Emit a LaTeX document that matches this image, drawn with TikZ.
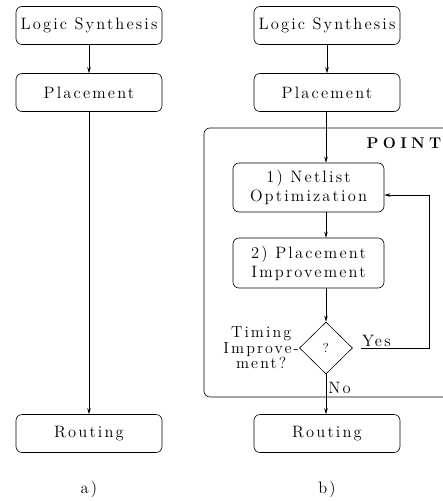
\documentclass[tikz,border=0pt]{standalone}
\usepackage{fontspec}
\usetikzlibrary{arrows.meta,shapes.geometric}
\newfontfamily\spacedfam[LetterSpace=13]{lmroman12-regular.otf}
\newfontfamily\spacedboldfam[LetterSpace=28]{lmroman12-bold.otf}
\newcommand{\flowfont}{\spacedfam\fontsize{16.5}{19}\selectfont}
\newcommand{\notefont}{\spacedfam\fontsize{16}{15.5}\selectfont}
\newcommand{\titlefont}{\spacedboldfam\fontsize{15.5}{17}\selectfont}
\tikzset{
  flowbox/.style={draw,rounded corners=6pt,minimum height=38pt,inner sep=0pt,align=center,font=\flowfont},
  flowarrow/.style={-{Stealth[length=6pt,width=3.5pt]}},
}

\begin{document}
\begin{tikzpicture}[x=1pt,y=-1pt,line width=0.6pt]

% ---------------- parameters ----------------
\pgfmathsetmacro{\ColA}{89}    % centre line of flow a)
\pgfmathsetmacro{\ColB}{327}   % centre line of flow b)
\pgfmathsetmacro{\BoxW}{146}   % width of the plain steps
\pgfmathsetmacro{\LoopX}{429}  % x of the feedback line

\clip (0,0) rectangle (443,501);

% ---------------- flow a) ----------------
\node[flowbox,minimum width=\BoxW] (synthA) at (\ColA,25.5) {Logic Synthesis};
\node[flowbox,minimum width=\BoxW] (placeA) at (\ColA,92.5) {Placement};
\node[flowbox,minimum width=\BoxW] (routeA) at (\ColA,433.5) {Routing};
\node[font=\flowfont] (capA) at (\ColA,489) {a)};

\draw[flowarrow] (synthA) -- (placeA);
\draw[flowarrow] (placeA) -- (routeA);

% ---------------- flow b) ----------------
\node[flowbox,minimum width=\BoxW] (synthB) at (\ColB,25.5) {Logic Synthesis};
\node[flowbox,minimum width=\BoxW] (placeB) at (\ColB,92.5) {Placement};
\node[flowbox,minimum width=\BoxW] (routeB) at (\ColB,433.5) {Routing};
\node[font=\flowfont] (capB) at (\ColB,489) {b)};

% the enclosing frame (runs off the right edge)
\draw[rounded corners=6pt] (480,397) -- (204,397) -- (204,128) -- (480,128);
\node[font=\titlefont,anchor=base east,inner sep=0pt] (title) at (441.5,148.5) {POINT};

\node[flowbox,minimum width=151,minimum height=49] (netopt) at (308.5,187.5) {1) Netlist\\Optimization};
\node[flowbox,minimum width=151,minimum height=50] (plimp) at (308.5,263) {2) Placement\\Improvement};
\node[draw,diamond,minimum width=53,minimum height=52,inner sep=0pt,font=\fontsize{13}{15}\selectfont] (check) at (\ColB-1,348) {?};
\node[anchor=east,inner sep=0pt,align=center,font=\notefont] (checktxt) at (check.west) {Timing\\Improve-\\ment?};

\coordinate (yesstart) at ([xshift=8]check.east);
\coordinate (yesend) at ([yshift=-7.5]netopt.east);

\draw[flowarrow] (synthB) -- (placeB);
\draw[flowarrow] (placeB.south -| check.north) -- (netopt.north -| check.north);
\draw[flowarrow] (netopt.south -| check.north) -- (plimp.north -| check.north);
\draw[flowarrow] (plimp.south -| check.north) -- (check.north);
\draw[flowarrow] (check.south) -- (routeB.north -| check.south)
  node[pos=0.35,right,inner sep=2pt,font=\flowfont] {No};
\draw[flowarrow] (yesstart) -- (\LoopX,348) |- (yesend);
\node[anchor=south west,inner sep=1pt,font=\flowfont] (yes) at (yesstart) {Yes};

\end{tikzpicture}
\end{document}
